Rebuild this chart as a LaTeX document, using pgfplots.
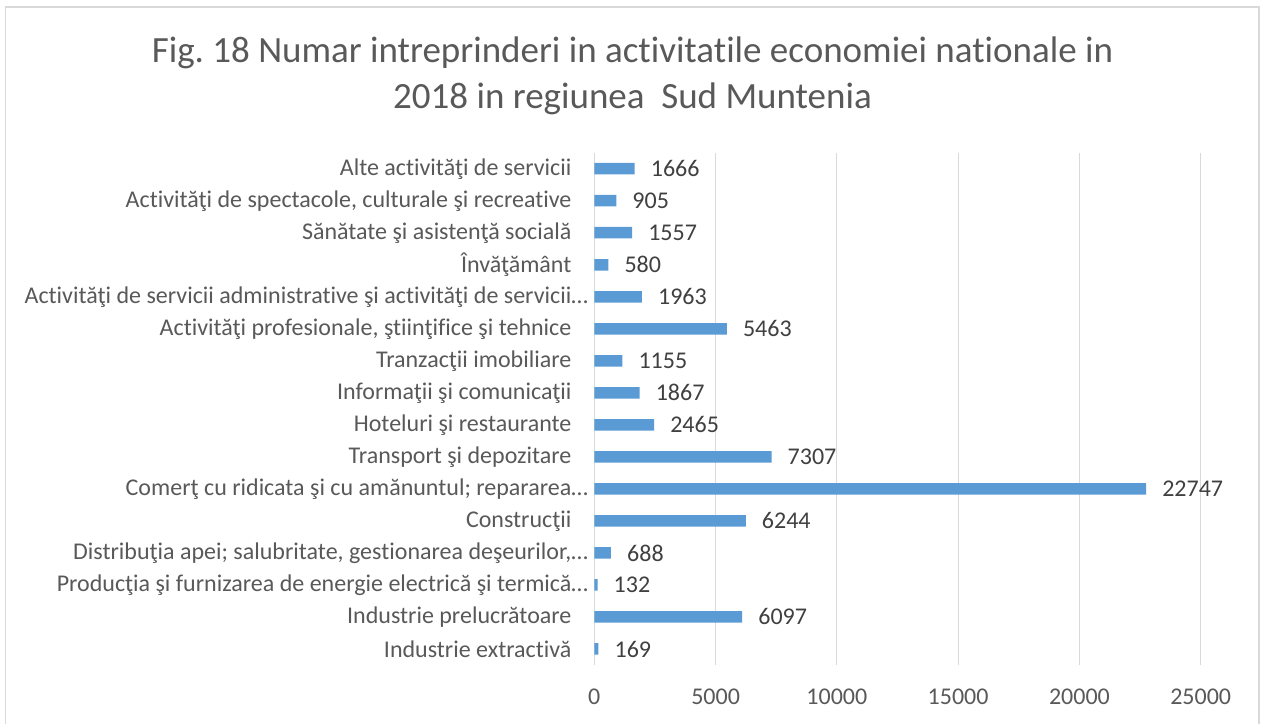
\documentclass[border=0pt]{standalone}
\usepackage{fontspec}
\setmainfont{Carlito}[Ligatures={NoCommon,NoRequired,NoContextual}]
\usepackage{pgfplots}
\pgfplotsset{compat=1.18}
\definecolor{barblue}{HTML}{5B9BD5}
\definecolor{gridgray}{HTML}{D9D9D9}
\definecolor{labgray}{HTML}{595959}
\definecolor{valgray}{HTML}{404040}
\newcommand\lab{\fontsize{24bp}{29bp}\selectfont}
\newcommand\ttl{\fontsize{37bp}{45bp}\selectfont}
\frenchspacing
\begin{document}
\begin{tikzpicture}
\useasboundingbox (0bp,0bp) rectangle (1263bp,724bp);
\fill[white] (0bp,0bp) rectangle (1263bp,724bp);
\draw[gridgray, line width=1.2bp] (5.5bp,-5bp) -- (5.5bp,717bp) -- (1259bp,717bp) -- (1259bp,-5bp);
\node[anchor=base, text=labgray, font=\ttl, inner sep=0pt] at (632.5bp,661bp) {Fig. 18 Numar intreprinderi in activitatile economiei nationale in};
\node[anchor=base, text=labgray, font=\ttl, inner sep=0pt] at (632.5bp,615bp) {2018 in regiunea\ \ Sud Muntenia};
\begin{axis}[
  at={(594.3bp,59bp)}, anchor=south west,
  scale only axis, width=606.4bp, height=512.3bp,
  xbar, bar width=11.5bp,
  xmin=0, xmax=25000, ymin=-0.5, ymax=15.5,
  xtick={0,5000,...,25000}, ytick={0,...,15},
  yticklabels={
    Industrie extractivă,
    Industrie prelucrătoare,
    {Producţia şi furnizarea de energie electrică şi termică\rlap{…}},
    {Distribuţia apei; salubritate, gestionarea deşeurilor,\rlap{…}},
    Construcţii,
    {Comerţ cu ridicata şi cu amănuntul; repararea\rlap{…}},
    Transport şi depozitare,
    Hoteluri şi restaurante,
    Informaţii şi comunicaţii,
    Tranzacţii imobiliare,
    {Activităţi profesionale, ştiinţifice şi tehnice},
    {Activităţi de servicii administrative şi activităţi de servicii\rlap{…}},
    Învăţământ,
    Sănătate şi asistenţă socială,
    {Activităţi de spectacole, culturale şi recreative},
    Alte activităţi de servicii},
  axis line style={draw=none},
  xmajorgrids, grid style={gridgray, line width=1.2bp},
  major tick length=0pt, tick style={draw=none},
  scaled x ticks=false,
  /pgf/number format/1000 sep={},
  /pgf/number format/assume math mode=true,
  xticklabel style={font=\lab, text=labgray, inner sep=0pt, anchor=north, yshift=-24bp},
  yticklabel style={font=\lab, text=labgray, inner sep=0pt, anchor=east, xshift=-22.7bp},
  nodes near coords,
  nodes near coords style={font=\lab, text=valgray, inner sep=0pt, anchor=west, xshift=16bp},
]
\addplot[fill=barblue, draw=none] coordinates {
  (169,0) (6097,1) (132,2) (688,3) (6244,4) (22747,5) (7307,6) (2465,7)
  (1867,8) (1155,9) (5463,10) (1963,11) (580,12) (1557,13) (905,14) (1666,15)
};
\end{axis}
\end{tikzpicture}
\end{document}
